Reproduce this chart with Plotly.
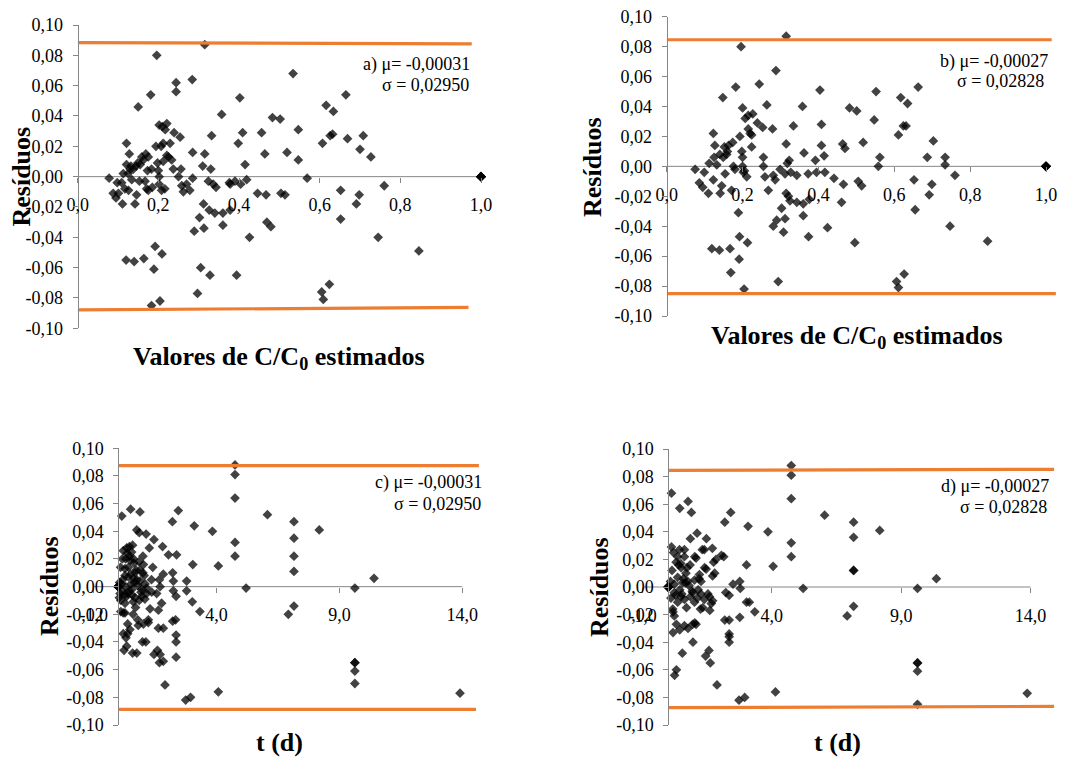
import plotly.graph_objects as go

W, H = 1082, 758

# ---------------- data ----------------
mu_a, sigma_a = -0.00031, 0.02950
mu_b, sigma_b = -0.00027, 0.02828

# a) residuals vs estimated C/C0 (model 1)
c_est_a = [0.078, 0.088, 0.095, 0.098, 0.101, 0.109, 0.111, 0.113, 0.117, 0.120, 0.121, 0.121, 0.125, 0.126,
           0.128, 0.130, 0.132, 0.134, 0.138, 0.140, 0.142, 0.145, 0.146, 0.149, 0.150, 0.153, 0.155, 0.159,
           0.163, 0.164, 0.167, 0.169, 0.171, 0.173, 0.175, 0.175, 0.181, 0.183, 0.183, 0.185, 0.189, 0.192,
           0.194, 0.196, 0.198, 0.200, 0.202, 0.202, 0.202, 0.204, 0.207, 0.208, 0.209, 0.210, 0.212, 0.212,
           0.216, 0.217, 0.221, 0.221, 0.225, 0.229, 0.233, 0.237, 0.239, 0.244, 0.244, 0.250, 0.254, 0.256,
           0.258, 0.262, 0.270, 0.278, 0.284, 0.285, 0.285, 0.289, 0.297, 0.302, 0.305, 0.310, 0.312, 0.313,
           0.315, 0.315, 0.324, 0.326, 0.328, 0.330, 0.332, 0.336, 0.340, 0.343, 0.357, 0.360, 0.360, 0.376,
           0.378, 0.378, 0.390, 0.394, 0.398, 0.402, 0.404, 0.409, 0.415, 0.419, 0.426, 0.446, 0.456, 0.464,
           0.467, 0.469, 0.479, 0.483, 0.502, 0.504, 0.514, 0.519, 0.534, 0.547, 0.547, 0.569, 0.605, 0.607,
           0.609, 0.616, 0.624, 0.626, 0.632, 0.634, 0.652, 0.652, 0.665, 0.669, 0.691, 0.698, 0.700, 0.708,
           0.727, 0.745, 0.760, 0.846, 1.0, 1.0, 1.0, 1.0, 1.0, 1.0]
res_a = [-0.001, -0.011, -0.014, -0.004, -0.011, -0.004, -0.018, 0.002, -0.008, -0.055, 0.022, 0.008, 0.002, -0.009,
         0.015, 0.005, 0.007, -0.002, 0.005, -0.056, -0.018, 0.007, -0.012, 0.009, 0.046, -0.003, 0.008, 0.013,
         0.011, -0.054, -0.003, 0.015, -0.008, 0.004, -0.009, 0.013, 0.054, 0.005, -0.085, -0.007, -0.061, -0.046,
         0.020, 0.080, 0.009, 0.004, 0.000, -0.005, 0.034, -0.082, 0.020, -0.009, -0.051, 0.033, 0.022, 0.010,
         -0.008, 0.031, 0.035, 0.014, 0.013, 0.022, 0.011, 0.005, 0.029, 0.062, 0.056, 0.000, 0.026, 0.005,
         -0.006, -0.010, -0.005, -0.009, 0.064, 0.016, -0.001, -0.036, -0.077, -0.027, -0.060, 0.007, -0.018, -0.034,
         0.087, 0.015, -0.003, -0.022, -0.065, 0.005, 0.027, -0.005, -0.024, -0.007, 0.041, -0.032, -0.024, -0.004,
         -0.005, -0.022, -0.003, -0.065, 0.022, 0.052, -0.005, 0.029, 0.008, -0.002, -0.040, -0.011, 0.029, 0.015,
         -0.012, -0.030, -0.033, 0.039, 0.038, -0.011, -0.012, 0.016, 0.068, 0.031, 0.011, -0.001, -0.076, 0.022,
         -0.081, 0.047, -0.071, 0.027, 0.028, 0.043, -0.009, -0.028, 0.054, 0.025, -0.018, -0.012, 0.018, 0.027,
         0.013, -0.040, -0.006, -0.049, 0.0, 0.0, 0.0, 0.0, 0.0, 0.0]

# b) residuals vs estimated C/C0 (model 2)
c_est_b = [0.075, 0.086, 0.095, 0.099, 0.110, 0.112, 0.119, 0.123, 0.123, 0.125, 0.127, 0.132, 0.139, 0.141,
           0.145, 0.148, 0.149, 0.152, 0.154, 0.158, 0.163, 0.167, 0.169, 0.171, 0.174, 0.176, 0.182, 0.189,
           0.191, 0.192, 0.193, 0.196, 0.198, 0.200, 0.200, 0.202, 0.204, 0.207, 0.211, 0.213, 0.215, 0.220,
           0.224, 0.227, 0.224, 0.239, 0.244, 0.253, 0.255, 0.255, 0.264, 0.259, 0.268, 0.279, 0.281, 0.281,
           0.286, 0.288, 0.290, 0.294, 0.299, 0.303, 0.308, 0.312, 0.315, 0.315, 0.312, 0.315, 0.318, 0.321,
           0.323, 0.325, 0.327, 0.334, 0.343, 0.343, 0.358, 0.362, 0.360, 0.360, 0.373, 0.374, 0.376, 0.392,
           0.395, 0.404, 0.408, 0.408, 0.415, 0.417, 0.424, 0.441, 0.461, 0.464, 0.466, 0.470, 0.482, 0.496,
           0.501, 0.505, 0.514, 0.518, 0.547, 0.552, 0.558, 0.562, 0.606, 0.611, 0.611, 0.617, 0.624, 0.626,
           0.631, 0.635, 0.652, 0.655, 0.663, 0.687, 0.692, 0.699, 0.703, 0.734, 0.734, 0.747, 0.760, 0.846,
           0.140, 0.160, 0.180, 0.200, 0.205, 0.215,
           1.0, 1.0, 1.0, 1.0, 1.0, 1.0]
res_b = [-0.002, -0.011, -0.014, -0.004, -0.018, 0.002, -0.055, 0.022, -0.009, 0.006, 0.014, 0.001, -0.056, -0.018,
         -0.013, 0.046, 0.006, 0.013, -0.005, 0.008, 0.014, -0.055, -0.071, -0.016, 0.016, 0.000, 0.053, -0.031,
         -0.062, -0.047, 0.020, 0.080, 0.010, 0.039, 0.000, -0.004, -0.082, 0.032, -0.007, -0.051, 0.034, 0.022,
         0.021, 0.035, 0.013, 0.029, 0.055, 0.026, 0.006, 0.000, 0.041, -0.007, -0.016, 0.025, -0.006, -0.040,
         -0.009, 0.064, -0.036, -0.077, -0.002, -0.028, -0.044, -0.005, 0.087, 0.015, -0.035, -0.018, 0.002, -0.020,
         0.004, -0.023, -0.004, 0.027, -0.006, -0.024, 0.040, 0.009, -0.025, -0.033, -0.005, -0.047, -0.022, 0.004,
         -0.004, 0.051, 0.028, 0.014, 0.007, -0.004, -0.041, -0.008, -0.024, 0.015, -0.012, 0.012, 0.039, -0.051,
         0.037, -0.010, -0.013, 0.016, 0.031, 0.050, 0.000, 0.006, -0.077, -0.081, 0.021, 0.046, 0.027, -0.072,
         0.027, 0.042, -0.009, -0.029, 0.053, 0.006, -0.019, -0.012, 0.017, 0.006, 0.001, -0.040, -0.006, -0.050,
         0.008, 0.010, -0.002, 0.006, -0.003, 0.025,
         0.0, 0.0, 0.0, 0.0, 0.0, 0.0]

# c) residuals vs time (model 1)
t_c = [4.75, 4.75, 4.75, 4.75, 4.75, 5.20, 6.07, 6.92, 7.15, 7.15, 7.15, 7.15, 7.15, 8.18, 9.63, 9.63, 9.63,
       9.63, 9.63, 10.41, 13.91, 4.07, 4.07, 3.83, 3.32, 3.09, 3.03, 3.01, 2.94, 2.74, 2.78, 2.78, 2.44, 2.37,
       2.35, 2.35, 2.35, 2.35, 2.33, 2.21, 2.21, 2.20, 2.24, 2.24, 2.04, 1.90, 1.80, 1.83, 1.76, 1.70, 1.67,
       1.67, 1.63, 1.59, 1.63, 1.45, 1.45, 1.56, 1.40, 1.36, 1.29, 1.26, 1.15, 1.15, 1.13, 1.09, 0.98, 1.02,
       1.00, 1.02, 0.88, 0.88, 0.85, 0.75, 0.79, 0.68, 0.64, 0.61, 0.58, 0.54, 0.50, 0.50, 0.47, 0.45, 0.41,
       0.38, 0.34, 0.31, 0.27, 0.23, 0.20, 0.20, 0.14, 0.09, 0.07, 0.04, 0.18, 0.27, 0.34, 0.58, 0.68, 0.95,
       1.22, 0.27, 0.41, 0.75, 0.88, 0.55, 0.95, 0.34, 0.27, 0.38, 0.75, 1.12, 0.81, 1.22, 1.83, 1.70, 1.83,
       0.10, 0.15, 0.12, 0.30, 0.45, 0.62, 0.70, 0.85, 1.05, 0.40, 0.52, 0.30, 0.05, 0.10, 0.60, 1.35,
       0.20, 0.36, 0.48, 0.62, 0.78, 0.92, 1.08, 0.25, 0.44, 0.66, 0.84, 1.00, 0.16, 0.56, 0.72,
       0.0, 0.0, 0.0, 0.0, 0.0, 0.0, 0.0, 0.0]
res_c = [0.088, 0.081, 0.064, 0.032, 0.022, -0.001, 0.052, -0.020, 0.047, 0.035, 0.022, 0.011, -0.014, 0.041, -0.001,
         -0.055, -0.055, -0.061, -0.070, 0.006, -0.077, -0.076, 0.015, 0.040, -0.018, 0.044, 0.016, -0.011, -0.080,
         -0.082, -0.003, 0.004, 0.055, 0.023, -0.007, -0.035, -0.040, -0.051, -0.024, -0.025, 0.010, 0.047, 0.004,
         -0.003, 0.023, -0.071, 0.029, 0.009, -0.012, 0.000, 0.005, -0.055, -0.030, -0.046, -0.017, 0.034, -0.049,
         -0.005, 0.014, -0.004, -0.016, 0.028, -0.005, -0.001, 0.038, 0.002, -0.040, -0.027, 0.022, 0.016, 0.054,
         0.004, 0.039, 0.041, -0.024, -0.008, 0.017, -0.011, -0.048, 0.025, 0.056, 0.009, -0.031, 0.029, 0.014,
         -0.027, -0.043, -0.037, -0.012, -0.046, -0.034, -0.019, 0.051, 0.014, -0.005, -0.008, 0.005, 0.008, 0.028,
         0.030, 0.010, -0.007, -0.024, 0.013, 0.007, 0.005, 0.012, -0.002, -0.002, -0.007, -0.019, -0.034, -0.048,
         -0.040, -0.028, -0.026, -0.030, -0.049, -0.054, -0.018, -0.003, 0.002, 0.020, 0.022, 0.020, -0.015, -0.010,
         0.008, -0.005, 0.002, 0.000, 0.003, -0.010, -0.020, 0.005,
         0.026, 0.024, 0.019, 0.006, 0.001, -0.004, -0.009, -0.006, -0.003, 0.003, 0.018, 0.010, 0.020, -0.006, 0.012,
         0.0, 0.0, 0.0, 0.0, 0.0, 0.0, 0.0, 0.0]

# d) residuals vs time (model 2)
t_d = [4.75, 4.75, 4.75, 4.75, 4.75, 5.21, 6.04, 6.91, 7.16, 7.16, 7.16, 7.16, 7.16, 8.17, 9.63, 9.63, 9.63,
       9.63, 9.63, 10.36, 13.87, 4.14, 4.05, 3.85, 3.34, 3.08, 3.02, 3.02, 2.95, 2.73, 2.76, 2.76, 2.78, 2.50,
       2.41, 2.35, 2.35, 2.35, 2.35, 2.35, 2.22, 2.18, 2.18, 2.05, 1.88, 1.79, 1.75, 1.70, 1.66, 1.62, 1.60,
       1.57, 1.53, 1.44, 1.40, 1.47, 1.31, 1.24, 1.19, 1.11, 1.02, 1.02, 0.95, 0.85, 0.76, 0.89, 0.76, 0.54,
       0.44, 0.44, 0.18, 0.12, 0.12, 0.18, 0.24, 0.31, 0.31, 0.43, 0.62, 0.62, 0.30, 0.49, 0.68, 1.46, 1.71,
       0.36, 0.75, 1.01, 1.26, 0.23, 0.23, 0.49, 0.62, 0.85, 1.26, 1.39, 1.59, 1.71, 0.36, 1.01, 0.17, 1.33,
       0.23, 0.62, 0.94, 1.07, 1.07, 1.39, 1.84, 2.14, 0.94, 0.55, 0.10, 0.08, 0.40, 0.70, 1.15, 3.13,
       0.20, 0.36, 0.48, 0.58, 0.80, 0.92, 1.12, 0.28, 0.44, 0.66, 0.84, 1.20, 0.14, 0.52, 0.72,
       0.0, 0.0, 0.0, 0.0, 0.0, 0.0, 0.0, 0.0]
res_d = [0.088, 0.081, 0.064, 0.032, 0.022, -0.001, 0.052, -0.021, 0.047, 0.036, 0.012, 0.012, -0.014, 0.041, -0.001,
         -0.055, -0.055, -0.061, -0.085, 0.006, -0.077, -0.076, 0.015, 0.040, -0.018, 0.044, 0.016, -0.011, -0.080,
         -0.082, -0.022, 0.004, -0.001, 0.002, 0.054, -0.006, -0.034, -0.040, -0.036, -0.024, -0.004, 0.047, -0.024,
         0.023, -0.071, 0.010, 0.018, 0.028, -0.012, -0.055, -0.017, -0.046, -0.005, -0.050, 0.014, 0.035, 0.027,
         -0.016, 0.006, 0.039, -0.026, 0.022, -0.040, 0.035, -0.030, 0.054, 0.062, -0.048, 0.057, -0.031, -0.033,
         0.068, 0.029, -0.018, -0.064, -0.060, -0.027, 0.027, 0.027, 0.022, 0.018, 0.014, 0.010, 0.013, 0.008,
         0.007, 0.004, 0.005, 0.004, 0.002, -0.004, -0.007, -0.009, -0.007, -0.005, -0.009, -0.007, -0.010, -0.011,
         -0.011, -0.016, -0.015, -0.021, -0.028, -0.027, -0.027, 0.021, 0.027, 0.020, 0.022, -0.004, 0.003, -0.008,
         0.004, 0.016, -0.015, -0.002, -0.011,
         0.025, 0.022, 0.017, 0.006, 0.001, -0.003, -0.008, -0.006, -0.002, 0.003, 0.016, 0.009, 0.012, -0.005, 0.014,
         0.0, 0.0, 0.0, 0.0, 0.0, 0.0, 0.0, 0.0]

# limit lines (start/end values as drawn)
lim_x_a = [0.0, 0.977, 0.0, 0.969]
lim_y_a = [0.0884, 0.0875, -0.0879, -0.0862]
lim_x_b = [0.0, 1.015, 0.0, 1.026]
lim_y_b = [0.0846, 0.0846, -0.0851, -0.0851]
lim_x_c = [0.0, 14.68, 0.0, 14.56]
lim_y_c = [0.0875, 0.0875, -0.0887, -0.0887]
lim_x_d = [0.0, 14.91, 0.0, 14.91]
lim_y_d = [0.0845, 0.0853, -0.0874, -0.0865]

# tick labels
y_tickvals = [-0.10, -0.08, -0.06, -0.04, -0.02, 0.0, 0.02, 0.04, 0.06, 0.08, 0.10]
y_ticktext = ["-0,10", "-0,08", "-0,06", "-0,04", "-0,02", "0,00", "0,02", "0,04", "0,06", "0,08", "0,10"]
x_tickvals_c0 = [0.0, 0.2, 0.4, 0.6, 0.8, 1.0]
x_ticktext_c0 = ["0,0", "0,2", "0,4", "0,6", "0,8", "1,0"]
x_tickvals_t = [-1.0, 4.0, 9.0, 14.0]
x_ticktext_t = ["-1,0", "4,0", "9,0", "14,0"]

# ---------------- styling ----------------
FONT = "Liberation Serif"
AXIS_GREY = "#868686"
ORANGE = "#ED7D31"
MARKER = "rgba(0,0,0,0.74)"


def fmt(v, nd):
    return f"{v:.{nd}f}".replace(".", ",")


panels = [
    dict(key="", x=c_est_a, y=res_a, lx=lim_x_a, ly=lim_y_a, xr=[0.0, 1.03], axis_span=[0.0, 1.0],
         px0=77.7, ppu=403.3, ytop=25.0, ybot=328.3, tv=x_tickvals_c0, tt=x_ticktext_c0,
         stat=("a", mu_a, sigma_a), stat_px=(471.7, 64.3, 471.0, 85.0),
         ytitle_px=(20.5, 177.0), xtitle_px=(279.0, 358.0),
         xtitle="Valores de C/C<sub>0</sub> estimados"),
    dict(key="2", x=c_est_b, y=res_b, lx=lim_x_b, ly=lim_y_b, xr=[0.0, 1.03], axis_span=[0.0, 1.0],
         px0=666.7, ppu=379.3, ytop=16.7, ybot=316.0, tv=x_tickvals_c0, tt=x_ticktext_c0,
         stat=("b", mu_b, sigma_b), stat_px=(1050.0, 61.7, 1046.0, 80.7),
         ytitle_px=(592.0, 167.0), xtitle_px=(857.0, 337.0),
         xtitle="Valores de C/C<sub>0</sub> estimados"),
    dict(key="3", x=t_c, y=res_c, lx=lim_x_c, ly=lim_y_c, xr=[-1.0, 14.8], axis_span=[-1.0, 14.0],
         px0=93.8, ppu=24.56, ytop=448.3, ybot=725.0, tv=x_tickvals_t, tt=x_ticktext_t,
         stat=("c", mu_a, sigma_a), stat_px=(484.0, 482.7, 483.3, 504.3),
         ytitle_px=(49.0, 586.0), xtitle_px=(279.0, 742.5), xtitle="t (d)"),
    dict(key="4", x=t_d, y=res_d, lx=lim_x_d, ly=lim_y_d, xr=[-1.0, 15.0], axis_span=[-1.0, 14.0],
         px0=642.5, ppu=25.87, ytop=449.0, ybot=725.0, tv=x_tickvals_t, tt=x_ticktext_t,
         stat=("d", mu_b, sigma_b), stat_px=(1050.7, 486.7, 1049.0, 507.3),
         ytitle_px=(599.0, 587.0), xtitle_px=(837.0, 742.5), xtitle="t (d)"),
]

fig = go.Figure()
layout = dict(
    width=W, height=H, margin=dict(l=0, r=0, t=0, b=0, autoexpand=False),
    paper_bgcolor="white", plot_bgcolor="rgba(0,0,0,0)",
    showlegend=False, font=dict(family=FONT, size=18, color="black"),
    shapes=[], annotations=[],
)

for p in panels:
    k = p["key"]
    xref, yref = "x" + k, "y" + k
    x_lo_px = p["px0"]
    x_hi_px = p["px0"] + (p["xr"][1] - p["xr"][0]) * p["ppu"]
    xdom = [x_lo_px / W, x_hi_px / W]
    ydom = [1 - p["ybot"] / H, 1 - p["ytop"] / H]
    y0_paper = 1 - (p["ytop"] + p["ybot"]) / 2 / H
    yaxis_paper = (p["px0"] + (0.0 - p["xr"][0]) * p["ppu"]) / W

    layout["xaxis" + k] = dict(
        domain=xdom, range=p["xr"], anchor="free", position=y0_paper, automargin=False,
        showgrid=False, zeroline=False, showline=False,
        tickmode="array", tickvals=p["tv"], ticktext=p["tt"],
        ticks="outside", ticklen=5, tickwidth=1, tickcolor=AXIS_GREY,
        ticklabelstandoff=7, tickfont=dict(family=FONT, size=18, color="black"),
    )
    layout["yaxis" + k] = dict(
        domain=ydom, range=[-0.1, 0.1], anchor="free", position=yaxis_paper, automargin=False,
        showgrid=False, zeroline=False, showline=True, linecolor=AXIS_GREY, linewidth=1,
        tickmode="array", tickvals=y_tickvals, ticktext=y_ticktext,
        ticks="outside", ticklen=5, tickwidth=1, tickcolor=AXIS_GREY,
        ticklabelstandoff=6, tickfont=dict(family=FONT, size=18, color="black"),
    )

    # horizontal axis line through zero
    layout["shapes"].append(dict(
        type="line", xref=xref, yref=yref, x0=p["axis_span"][0], x1=p["axis_span"][1], y0=0, y1=0,
        line=dict(color=AXIS_GREY, width=1), layer="below",
    ))

    fig.add_trace(go.Scatter(
        x=p["x"], y=p["y"], mode="markers", xaxis=xref, yaxis=yref,
        marker=dict(symbol="diamond", size=7.5, color=MARKER, line=dict(width=0)),
        hoverinfo="skip",
    ))

    # upper and lower limit lines
    for i in (0, 2):
        fig.add_trace(go.Scatter(
            x=p["lx"][i:i + 2], y=p["ly"][i:i + 2], mode="lines", xaxis=xref, yaxis=yref,
            line=dict(color=ORANGE, width=3.2), hoverinfo="skip",
        ))

    # statistics text
    letter, mu, sd = p["stat"]
    sx1, sy1, sx2, sy2 = p["stat_px"]
    layout["annotations"].append(dict(
        text=f"{letter}) μ= {fmt(mu, 5)}", xref="paper", yref="paper",
        x=sx1 / W, y=1 - sy1 / H, xanchor="right", yanchor="middle", showarrow=False,
        font=dict(family=FONT, size=18, color="black"),
    ))
    layout["annotations"].append(dict(
        text=f"σ = {fmt(sd, 5)}", xref="paper", yref="paper",
        x=sx2 / W, y=1 - sy2 / H, xanchor="right", yanchor="middle", showarrow=False,
        font=dict(family=FONT, size=18, color="black"),
    ))

    # axis titles
    tx, ty = p["ytitle_px"]
    layout["annotations"].append(dict(
        text="<b>Resíduos</b>", xref="paper", yref="paper", x=tx / W, y=1 - ty / H,
        xanchor="center", yanchor="middle", textangle=-90, showarrow=False,
        font=dict(family=FONT, size=26, color="black"),
    ))
    tx, ty = p["xtitle_px"]
    layout["annotations"].append(dict(
        text=f"<b>{p['xtitle']}</b>", xref="paper", yref="paper", x=tx / W, y=1 - ty / H,
        xanchor="center", yanchor="middle", showarrow=False, borderpad=0,
        font=dict(family=FONT, size=26, color="black"),
    ))

fig.update_layout(**layout)
fig.write_html("out.html")
